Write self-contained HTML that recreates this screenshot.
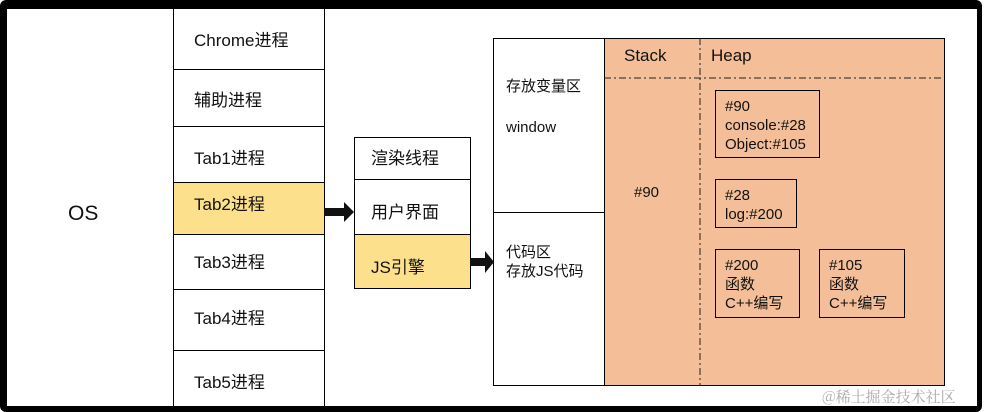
<!DOCTYPE html>
<html><head><meta charset="utf-8"><style>
body{margin:0;width:988px;height:412px;background:#fff;position:relative;overflow:hidden;font-family:"Liberation Sans","Noto Sans CJK SC",sans-serif;color:#111}
div{position:absolute;box-sizing:border-box}
.t{font-size:17px;white-space:nowrap}
.s{font-size:15px;line-height:19px;white-space:nowrap}
</style></head><body>
<div style="left:0;top:0;width:982px;height:412px;border:solid #000;border-width:9px 5px 6px 7px;border-radius:6px"></div>
<div class="t" style="left:68px;top:202px;font-size:21px">OS</div>
<div style="left:173px;top:9px;width:152px;height:397px;border-left:1px solid #000;border-right:1px solid #000"></div>
<div style="left:174px;top:182px;width:150px;height:52px;background:#fde08c"></div>
<div style="left:173px;top:69px;width:152px;height:1px;background:#000"></div>
<div style="left:173px;top:126px;width:152px;height:1px;background:#000"></div>
<div style="left:173px;top:182px;width:152px;height:1px;background:#000"></div>
<div style="left:173px;top:234px;width:152px;height:1px;background:#000"></div>
<div style="left:173px;top:289px;width:152px;height:1px;background:#000"></div>
<div style="left:173px;top:350px;width:152px;height:1px;background:#000"></div>
<div class="t" style="left:194px;top:26px">Chrome进程</div>
<div class="t" style="left:194px;top:86px">辅助进程</div>
<div class="t" style="left:194px;top:144px">Tab1进程</div>
<div class="t" style="left:194px;top:190px">Tab2进程</div>
<div class="t" style="left:194px;top:248px">Tab3进程</div>
<div class="t" style="left:194px;top:304px">Tab4进程</div>
<div class="t" style="left:194px;top:368px">Tab5进程</div>
<div style="left:354px;top:137px;width:117px;height:152px;border:1px solid #000"></div>
<div style="left:355px;top:234px;width:115px;height:54px;background:#fde08c"></div>
<div style="left:355px;top:179px;width:115px;height:1px;background:#000"></div>
<div style="left:355px;top:234px;width:115px;height:1px;background:#000"></div>
<div class="t" style="left:371px;top:144px">渲染线程</div>
<div class="t" style="left:371px;top:198px">用户界面</div>
<div class="t" style="left:371px;top:253px">JS引擎</div>
<svg style="position:absolute;left:324px;top:200px" width="32" height="26"><polygon points="0,8 20,8 20,2 30,12 20,22 20,16 0,16" fill="#111"/></svg>
<svg style="position:absolute;left:470px;top:250px" width="26" height="26"><polygon points="0,8 15,8 15,1 24,12 15,23 15,16 0,16" fill="#111"/></svg>
<div style="left:604px;top:38px;width:341px;height:348px;background:#f4bf98"></div>
<div style="left:493px;top:38px;width:452px;height:348px;border:1px solid #000"></div>
<div style="left:604px;top:38px;width:1px;height:348px;background:#000"></div>
<div style="left:493px;top:212px;width:112px;height:1px;background:#000"></div>
<svg style="position:absolute;left:604px;top:38px" width="341" height="348"><line x1="0" y1="40" x2="340" y2="40" stroke="#222" stroke-dasharray="7,3,2,3"/><line x1="96" y1="0" x2="96" y2="348" stroke="#222" stroke-dasharray="7,3,2,3"/></svg>
<div class="t" style="left:624px;top:46px">Stack</div>
<div class="t" style="left:711px;top:46px">Heap</div>
<div class="s" style="left:506px;top:77px">存放变量区</div>
<div class="s" style="left:506px;top:118px">window</div>
<div class="s" style="left:506px;top:243px">代码区<br>存放JS代码</div>
<div class="s" style="left:634px;top:183px">#90</div>
<div style="left:715px;top:90px;width:105px;height:68px;border:1px solid #000"></div>
<div class="s" style="left:725px;top:97px">#90<br>console:#28<br>Object:#105</div>
<div style="left:715px;top:179px;width:82px;height:49px;border:1px solid #000"></div>
<div class="s" style="left:725px;top:186px">#28<br>log:#200</div>
<div style="left:715px;top:249px;width:85px;height:69px;border:1px solid #000"></div>
<div class="s" style="left:725px;top:256px">#200<br>函数<br>C++编写</div>
<div style="left:819px;top:249px;width:86px;height:69px;border:1px solid #000"></div>
<div class="s" style="left:829px;top:256px">#105<br>函数<br>C++编写</div>
<div style="left:822px;top:386px;font-size:15px;color:#aaa;white-space:nowrap;font-family:'Noto Serif CJK SC','Liberation Sans',serif">@稀土掘金技术社区</div>
</body></html>
